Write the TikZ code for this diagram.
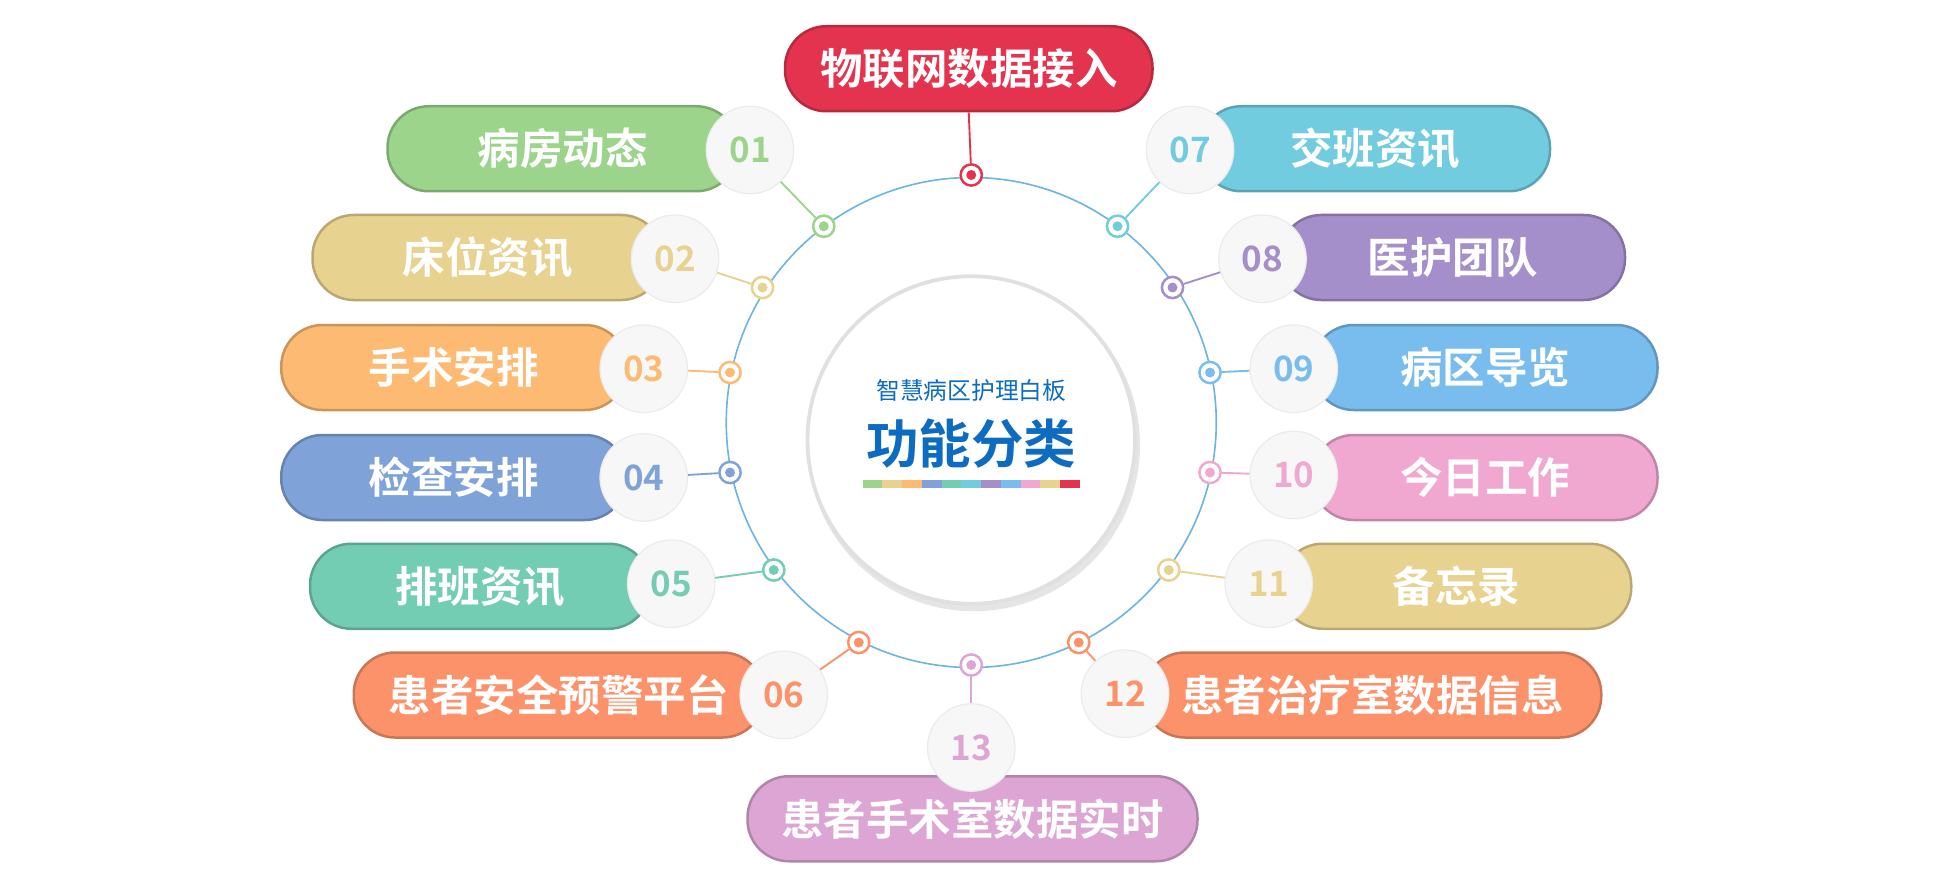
\documentclass[tikz,border=0pt]{standalone}
\usepackage{fontspec}
\newfontfamily\cjk{Noto Sans CJK SC}
\newfontfamily\cjkb{Noto Sans CJK SC Bold}
\definecolor{c0}{HTML}{E3334E}
\definecolor{c1}{HTML}{9BD48A}
\definecolor{c2}{HTML}{E8D290}
\definecolor{c3}{HTML}{FDBA72}
\definecolor{c4}{HTML}{7FA3D8}
\definecolor{c5}{HTML}{72CDB2}
\definecolor{c6}{HTML}{FC926A}
\definecolor{c7}{HTML}{72CCE0}
\definecolor{c8}{HTML}{A58FCA}
\definecolor{c9}{HTML}{79BDEE}
\definecolor{c10}{HTML}{F0A8D0}
\definecolor{c11}{HTML}{E8D290}
\definecolor{c12}{HTML}{FC926A}
\definecolor{c13}{HTML}{DDA5D4}
\definecolor{ringc}{HTML}{6BB5E0}
\definecolor{titleblue}{HTML}{0D6CC0}
\tikzset{
 pill/.style={draw=#1!80!black, line width=2pt, fill=#1, rounded corners=33pt, minimum height=68pt, inner sep=0pt, text=white, font=\cjkb\fontsize{34}{34}\selectfont},
 numc/.style={circle, draw=black!8, line width=1pt, fill=black!3, minimum size=70pt, inner sep=0pt, text=#1, font=\cjkb\fontsize{28}{28}\selectfont},
 dotc/.style={circle, draw=#1, line width=2pt, fill=white, minimum size=17pt, inner sep=0pt},
 conn/.style={draw=#1, line width=1.5pt}
}
\begin{document}
\begin{tikzpicture}[x=1pt,y=-1pt]
\useasboundingbox (0,0) rectangle (1560,695);
% ring
\draw[ringc, line width=1.3pt] (777,338) circle (196);
% center circle
\fill[black!10] (779,356) circle (133);
\node[circle, fill=white, draw=black!12, line width=3pt, minimum size=262pt] (ctr) at (777,352) {};
\node[text=titleblue, font=\cjk\fontsize{19}{19}\selectfont] (sub) at (777,312) {智慧病区护理白板};
\node[text=titleblue, font=\cjkb\fontsize{42}{42}\selectfont] (ttl) at (777,355) {功能分类};
\foreach \i/\c in {0/c1,1/c2,2/c3,3/c4,4/c5,5/c7,6/c8,7/c9,8/c10,9/c11,10/c0}
  \fill[\c] (690+\i*15.8,384) rectangle (690+\i*15.8+15.8,390);
% top
\node[dotc=c0] (d0) at (777,140) {};
\fill[c0] (d0) circle (4);
\node[pill=c0, minimum width=294pt] (p0) at (775,55) {物联网数据接入};
\draw[conn=c0] (p0.south) -- (d0);
% items
\foreach \n/\lab/\px/\pw/\py/\cx/\cy/\dx/\dy/\t in {
 1/01/450/280/119/600/120/659/181/病房动态,
 2/02/390/280/206/540/207/610/230/床位资讯,
 3/03/363/276/294/515/295/584/298/手术安排,
 4/04/363/276/382/515/382/584/378/检查安排,
 5/05/384/272/469/537/467/619/456/排班资讯,
 6/06/447/328/556/627/556/687/514/患者安全预警平台,
 7/07/1100/280/119/952/120/894/181/交班资讯,
 8/08/1162/276/206/1010/207/938/230/医护团队,
 9/09/1188/276/294/1035/295/968/298/病区导览,
 10/10/1188/276/382/1035/380/968/378/今日工作,
 11/11/1165/280/469/1015/467/935/456/备忘录,
 12/12/1098/366/556/900/555/863/514/患者治疗室数据信息,
 13/13/778/360/655/777/598/777/532/患者手术室数据实时}
{
 \node[dotc=c\n] (d\n) at (\dx,\dy) {};
 \fill[c\n] (d\n) circle (4);
 \node[pill=c\n, minimum width=\pw pt] (p\n) at (\px,\py) {\t};
 \node[numc=c\n] (n\n) at (\cx,\cy) {\lab};
 \draw[conn=c\n] (n\n) -- (d\n);
}
\end{tikzpicture}
\end{document}
